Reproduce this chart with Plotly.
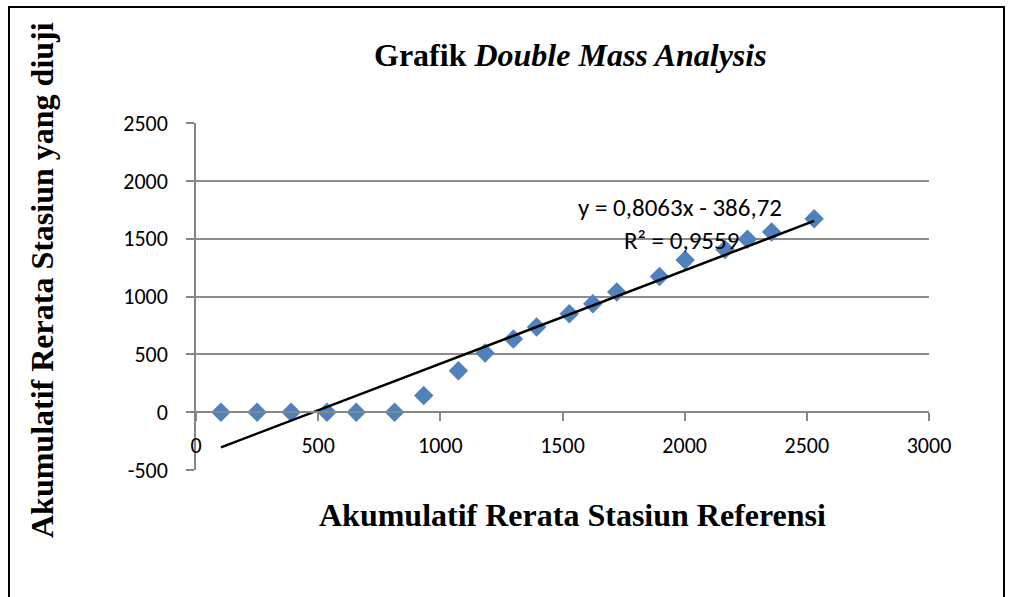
import plotly.graph_objects as go

# Data
x_ref = [102, 250, 389, 536, 656, 813, 932, 1074, 1183, 1299,
         1394, 1528, 1624, 1722, 1897, 2002, 2165, 2257, 2356, 2530]
y_test = [0, 0, 0, 0, 0, 0, 145, 357, 512, 632,
          736, 850, 937, 1038, 1172, 1316, 1407, 1494, 1558, 1672]
slope = 0.8063
intercept = -386.72
r2 = 0.9559

x_ticks = [0, 500, 1000, 1500, 2000, 2500, 3000]
y_ticks = [-500, 0, 500, 1000, 1500, 2000, 2500]

# pixel geometry
W, H = 1010, 597
L, R, T, B = 196, 929, 123, 470
pw, ph = R - L, B - T


def px(xp):
    return (xp - L) / pw


def py(yp):
    return (B - yp) / ph


tick_font = dict(family="Carlito, Lato, Open Sans, sans-serif", size=22, color="black")
eq_font = dict(family="Carlito, Lato, Open Sans, sans-serif", size=25, color="black")
serif = "Liberation Serif, Times New Roman, serif"

fig = go.Figure()

fig.add_trace(go.Scatter(
    x=x_ref, y=y_test, mode="markers",
    marker=dict(symbol="diamond", size=15, color="#4F81BD",
                line=dict(width=0)),
    showlegend=False, cliponaxis=False,
))

x_fit = [min(x_ref), max(x_ref)]
y_fit = [slope * v + intercept for v in x_fit]
fig.add_trace(go.Scatter(
    x=x_fit, y=y_fit, mode="lines",
    line=dict(color="black", width=2.5),
    showlegend=False, cliponaxis=False,
))

fig.update_layout(
    width=W, height=H,
    margin=dict(l=L, r=W - R, t=T, b=H - B),
    paper_bgcolor="white", plot_bgcolor="white",
    xaxis=dict(
        range=[0, 3000], tickvals=x_ticks, ticktext=[str(v) for v in x_ticks],
        showgrid=False, zeroline=False,
        showline=True, linecolor="#868686", linewidth=1.5,
        ticks="outside", ticklen=8, tickcolor="#868686", tickwidth=1.5,
        tickfont=tick_font, ticklabelstandoff=6,
        anchor="free", position=1 / 6,
    ),
    yaxis=dict(
        range=[-500, 2500], tickvals=y_ticks, ticktext=[str(v) for v in y_ticks],
        showgrid=True, gridcolor="#8C8C8C", gridwidth=1.5,
        zeroline=False,
        showline=True, linecolor="#868686", linewidth=1.5,
        ticks="outside", ticklen=8, tickcolor="#868686", tickwidth=1.5,
        tickfont=tick_font, ticklabelstandoff=14,
    ),
    shapes=[
        dict(type="rect", xref="paper", yref="paper",
             x0=px(9), x1=px(1004), y0=py(620), y1=py(7),
             line=dict(color="black", width=2), fillcolor="rgba(0,0,0,0)",
             layer="above"),
    ],
    annotations=[
        dict(text="<b>Grafik <i>Double Mass Analysis</i></b>",
             xref="paper", yref="paper", x=px(570), y=py(55),
             showarrow=False, xanchor="center", yanchor="middle",
             font=dict(family=serif, size=32, color="black")),
        dict(text="<b>Akumulatif Rerata Stasiun Referensi</b>",
             xref="paper", yref="paper", x=px(572), y=py(515),
             showarrow=False, xanchor="center", yanchor="middle",
             font=dict(family=serif, size=32, color="black")),
        dict(text="<b>Akumulatif Rerata Stasiun yang diuji</b>",
             xref="paper", yref="paper", x=px(42), y=py(280),
             showarrow=False, xanchor="center", yanchor="middle", textangle=-90,
             font=dict(family=serif, size=32, color="black")),
        dict(text=f"y = {str(slope).replace('.', ',')}x - {str(abs(intercept)).replace('.', ',')}",
             xref="paper", yref="paper", x=px(680), y=py(207),
             showarrow=False, xanchor="center", yanchor="middle",
             font=eq_font),
        dict(text=f"R² = {str(r2).replace('.', ',')}",
             xref="paper", yref="paper", x=px(741), y=py(240),
             showarrow=False, xanchor="right", yanchor="middle",
             font=eq_font),
    ],
)

fig.write_html("out.html", config={"displayModeBar": False})

# remove the default page margin so the figure sits at the window origin
with open("out.html", "r", encoding="utf-8") as f:
    html = f.read()
html = html.replace("<body>", '<body style="margin:0;padding:0;">', 1)
with open("out.html", "w", encoding="utf-8") as f:
    f.write(html)
